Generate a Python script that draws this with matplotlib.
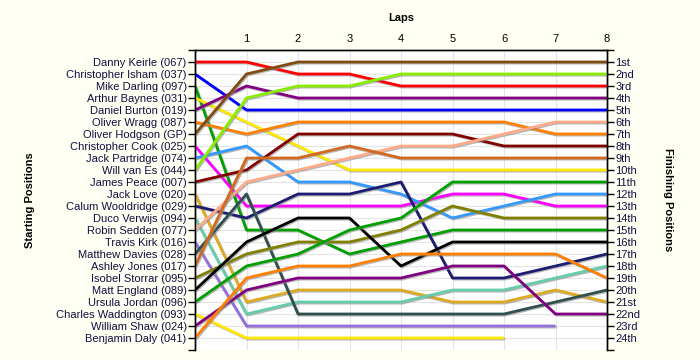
import numpy as np
import matplotlib
matplotlib.use("Agg")
import matplotlib.pyplot as plt
import matplotlib.patheffects as pe

# =====================================
# Data
# =====================================

laps = [0, 1, 2, 3, 4, 5, 6, 7, 8]

drivers = [
    "Danny Keirle (067)", "Christopher Isham (037)", "Mike Darling (097)",
    "Arthur Baynes (031)", "Daniel Burton (019)", "Oliver Wragg (087)",
    "Oliver Hodgson (GP)", "Christopher Cook (025)", "Jack Partridge (074)",
    "Will van Es (044)", "James Peace (007)", "Jack Love (020)",
    "Calum Wooldridge (029)", "Duco Verwijs (094)", "Robin Sedden (077)",
    "Travis Kirk (016)", "Matthew Davies (028)", "Ashley Jones (017)",
    "Isobel Storrar (095)", "Matt England (089)", "Ursula Jordan (096)",
    "Charles Waddington (093)", "William Shaw (024)", "Benjamin Daly (041)",
]

finish_labels = [
    "1st", "2nd", "3rd", "4th", "5th", "6th", "7th", "8th", "9th", "10th",
    "11th", "12th", "13th", "14th", "15th", "16th", "17th", "18th", "19th",
    "20th", "21st", "22nd", "23rd", "24th",
]

# position of each driver after every lap (None = retired)
positions = [
    [1, 1, 2, 2, 3, 3, 3, 3, 3],
    [2, 5, 5, 5, 5, 5, 5, 5, 5],
    [3, 15, 15, 17, 16, 15, 15, 15, 15],
    [4, 6, 8, 10, 10, 10, 10, 10, 10],
    [5, 3, 4, 4, 4, 4, 4, 4, 4],
    [6, 7, 6, 6, 6, 6, 6, 7, 7],
    [7, 2, 1, 1, 1, 1, 1, 1, 1],
    [8, 13, 13, 13, 13, 12, 12, 13, 13],
    [9, 8, 11, 11, 12, 14, 13, 12, 12],
    [10, 4, 3, 3, 2, 2, 2, 2, 2],
    [11, 10, 7, 7, 7, 7, 8, 8, 8],
    [12, 21, 20, 20, 20, 21, 21, 20, 21],
    [13, 14, 12, 12, 11, 19, 19, 18, 17],
    [14, 22, 21, 21, 21, 20, 20, 19, 18],
    [15, 11, 10, 9, 8, 8, 7, 6, 6],
    [16, 23, 23, 23, 23, 23, 23, 23, None],
    [17, 12, 22, 22, 22, 22, 22, 21, 20],
    [18, 9, 9, 8, 9, 9, 9, 9, 9],
    [19, 17, 16, 16, 15, 13, 14, 14, 14],
    [20, 16, 14, 14, 18, 16, 16, 16, 16],
    [21, 18, 17, 15, 14, 11, 11, 11, 11],
    [22, 24, 24, 24, 24, 24, 24, None, None],
    [23, 20, 19, 19, 19, 18, 18, 22, 22],
    [24, 19, 18, 18, 17, 17, 17, 17, 19],
]

colors = [
    "#ff0000", "#0000ff", "#00a000", "#ffe800", "#800080", "#ff8000",
    "#804a10", "#ff00ff", "#3399ff", "#88ee00", "#800000", "#ddaa22",
    "#1c1c70", "#66ccaa", "#ffaa88", "#9370db", "#2f4f4f", "#d2691e",
    "#808000", "#000000", "#00a000", "#ffe800", "#800080", "#ff8000",
]

# =====================================
# Figure
# =====================================

plt.rcParams["font.family"] = ["Liberation Sans", "DejaVu Sans"]

BG = "#fffff3"
TEXT = "#101040"

fig = plt.figure(figsize=(7, 3.6), dpi=100, facecolor=BG)
ax = fig.add_axes([195 / 700, 10 / 360, 412 / 700, 300 / 360])
ax.set_facecolor("white")

n = len(drivers)

for vals, col in zip(positions, colors):
    y = np.array([np.nan if v is None else v for v in vals], dtype=float)
    ax.plot(
        laps, y,
        color=col,
        linewidth=2,
        solid_capstyle="butt",
        zorder=3,
        path_effects=[
            pe.SimpleLineShadow(offset=(0.8, -0.8), shadow_color="#888888", alpha=0.6),
            pe.Normal(),
        ],
    )

# grid
for r in range(1, n + 1):
    ax.axhline(r, color="#e4e4e4", linewidth=0.8, zorder=1)
for lap in laps[1:-1]:
    ax.axvline(lap, color="#e4e4e4", linewidth=0.8, zorder=1)

ax.set_xlim(0, 8)
ax.set_ylim(n + 1, 0)

# top x axis
ax.xaxis.tick_top()
ax.set_xticks(laps[1:])
ax.set_xticklabels([str(l) for l in laps[1:]], fontsize=8, color="black")
ax.tick_params(axis="x", length=0, pad=4)

# left y axis
ax.set_yticks(range(0, n + 2))
ax.set_yticklabels([""] + drivers + [""], fontsize=8, color=TEXT)
ax.tick_params(axis="y", length=5, width=1, pad=1, direction="out")

# right y axis
ax2 = ax.twinx()
ax2.set_ylim(n + 1, 0)
ax2.set_yticks(range(0, n + 2))
ax2.set_yticklabels([""] + finish_labels + [""], fontsize=8, color=TEXT)
ax2.tick_params(axis="y", length=5, width=1, pad=1, direction="out")

for a in (ax, ax2):
    a.spines["bottom"].set_visible(False)
    a.spines["top"].set_linewidth(1)
    a.spines["left"].set_linewidth(1)
    a.spines["right"].set_linewidth(1)

# titles
fig.text(401 / 700, 1 - 18 / 360, "Laps", ha="center", va="center",
         fontsize=8, fontweight="bold")
fig.text(30 / 700, 1 - 200 / 360, "Starting Positions", ha="center",
         va="center", rotation=90, fontsize=8, fontweight="bold")
fig.text(668 / 700, 1 - 200 / 360, "Finishing Positions", ha="center",
         va="center", rotation=270, fontsize=8, fontweight="bold")

fig.savefig("out.png", dpi=100, facecolor=BG)
